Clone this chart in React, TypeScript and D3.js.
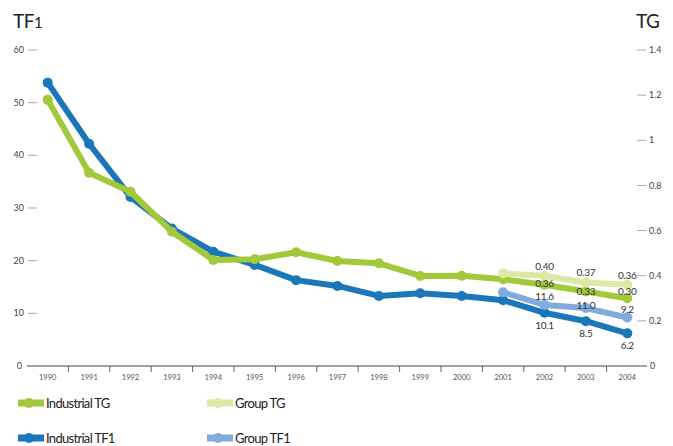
import React from 'react';
import * as d3 from 'd3';

const years = ['1990', '1991', '1992', '1993', '1994', '1995', '1996', '1997', '1998', '1999', '2000', '2001', '2002', '2003', '2004'];
const industrialTF1 = [53.8, 42.2, 32.1, 26.1, 21.7, 19.2, 16.3, 15.2, 13.3, 13.8, 13.3, 12.5, 10.1, 8.5, 6.2];
const industrialTG = [1.18, 0.856, 0.772, 0.595, 0.47, 0.473, 0.504, 0.465, 0.455, 0.399, 0.4, 0.384, 0.36, 0.33, 0.3];
const groupYears = ['2001', '2002', '2003', '2004'];
const groupTG = [0.41, 0.4, 0.37, 0.36];
const groupTF1 = [14.0, 11.6, 11.0, 9.2];
const labelYears = ['2002', '2003', '2004'];
const leftTicks = [0, 10, 20, 30, 40, 50, 60];
const rightTicks = [0, 0.2, 0.4, 0.6, 0.8, 1, 1.2, 1.4];

const C_ITF1 = '#1b77b9';
const C_ITG = '#a1c93a';
const C_GTG = '#dce8a4';
const C_GTF1 = '#80abdc';

const FONT = 'Lato, "Open Sans", sans-serif';

type Series = {
  name: string;
  color: string;
  cats: string[];
  values: number[];
  axis: 'left' | 'right';
  fmt: (v: number) => string;
  labelDy: number[];
};

export default function App() {
  const W = 673;
  const H = 446;
  const x = d3.scaleBand<string>().domain(years).range([27, 648]).padding(0);
  const yL = d3.scaleLinear().domain([0, 60]).range([366, 50]);
  const yR = d3.scaleLinear().domain([0, 1.4]).range([366, 50]);
  const cx = (c: string) => (x(c) as number) + x.bandwidth() / 2;

  const series: Series[] = [
    { name: 'Industrial TF1', color: C_ITF1, cats: years, values: industrialTF1, axis: 'left', fmt: d3.format('.1f'), labelDy: [16, 16, 16] },
    { name: 'Industrial TG', color: C_ITG, cats: years, values: industrialTG, axis: 'right', fmt: d3.format('.2f'), labelDy: [2, 3, -3] },
    { name: 'Group TG', color: C_GTG, cats: groupYears, values: groupTG, axis: 'right', fmt: d3.format('.2f'), labelDy: [-6, -6, -6] },
    { name: 'Group TF1', color: C_GTF1, cats: groupYears, values: groupTF1, axis: 'left', fmt: d3.format('.1f'), labelDy: [-5, 1, -5] },
  ];

  const line = (s: Series) =>
    d3
      .line<number>()
      .x((_, i) => cx(s.cats[i]))
      .y((v) => (s.axis === 'left' ? yL(v) : yR(v)))(s.values) || '';

  const py = (s: Series, v: number) => (s.axis === 'left' ? yL(v) : yR(v));

  const legend = [
    { name: 'Industrial TG', color: C_ITG, x: 18, y: 403 },
    { name: 'Group TG', color: C_GTG, x: 207, y: 403 },
    { name: 'Industrial TF1', color: C_ITF1, x: 18, y: 438 },
    { name: 'Group TF1', color: C_GTF1, x: 207, y: 438 },
  ];

  return (
    <svg width={W} height={H} style={{ position: 'absolute', left: 0, top: 0, background: '#fff' }} fontFamily={FONT}>
      <rect width={W} height={H} fill="#fff" />
      {/* titles */}
      <text x={13} y={28} fontSize={19} fill="#222" letterSpacing={-0.5}>
        TF<tspan fontSize={15}>1</tspan>
      </text>
      <text x={636} y={28} fontSize={19} fill="#222" letterSpacing={-0.5}>TG</text>

      {/* left axis */}
      {leftTicks.map((v) => (
        <g key={'l' + v}>
          {v !== 0 && <line x1={28} x2={37} y1={yL(v)} y2={yL(v)} stroke="#aaa" strokeWidth={1} />}
          <text x={v === 0 ? 22 : 24} y={yL(v)} dy="0.35em" textAnchor="end" fontSize={9} fill="#444">
            {v}
          </text>
        </g>
      ))}
      {/* right axis */}
      {rightTicks.map((v) => (
        <g key={'r' + v}>
          {v !== 0 && <line x1={637} x2={646} y1={yR(v)} y2={yR(v)} stroke="#aaa" strokeWidth={1} />}
          <text x={v === 0 ? 650 : 649} y={yR(v)} dy="0.35em" textAnchor="start" fontSize={9} fill="#444">
            {String(v)}
          </text>
        </g>
      ))}

      {/* x axis */}
      <line x1={27} x2={647} y1={366} y2={366} stroke="#444" strokeWidth={1} />
      {years.slice(1).map((c) => (
        <line key={'t' + c} x1={(x(c) as number)} x2={(x(c) as number)} y1={366} y2={372} stroke="#666" strokeWidth={1} />
      ))}
      {years.map((c) => (
        <text key={'x' + c} x={cx(c)} y={377} dy="0.35em" textAnchor="middle" fontSize={7.5} fill="#555">
          {c}
        </text>
      ))}

      {/* series */}
      {series.map((s) => (
        <g key={s.name}>
          <path d={line(s)} fill="none" stroke={s.color} strokeWidth={6} strokeLinejoin="round" strokeLinecap="round" />
          {s.values.map((v, i) => (
            <circle key={i} cx={cx(s.cats[i])} cy={py(s, v)} r={5} fill={s.color} />
          ))}
        </g>
      ))}

      {/* data labels */}
      {series.map((s) =>
        labelYears.map((yr, j) => {
          const i = s.cats.indexOf(yr);
          const v = s.values[i];
          return (
            <text
              key={s.name + yr}
              x={cx(yr)}
              y={py(s, v) + s.labelDy[j]}
              textAnchor="middle"
              fontSize={10}
              fill="#333"
              letterSpacing={-0.3}
            >
              {s.fmt(v)}
            </text>
          );
        })
      )}

      {/* legend */}
      {legend.map((l) => (
        <g key={l.name}>
          <line x1={l.x} x2={l.x + 26} y1={l.y} y2={l.y} stroke={l.color} strokeWidth={7} />
          <circle cx={l.x + 11} cy={l.y} r={5} fill={l.color} />
          <text x={l.x + 28} y={l.y} dy="0.35em" fontSize={13} fill="#222" letterSpacing={-0.7}>
            {l.name}
          </text>
        </g>
      ))}
    </svg>
  );
}
